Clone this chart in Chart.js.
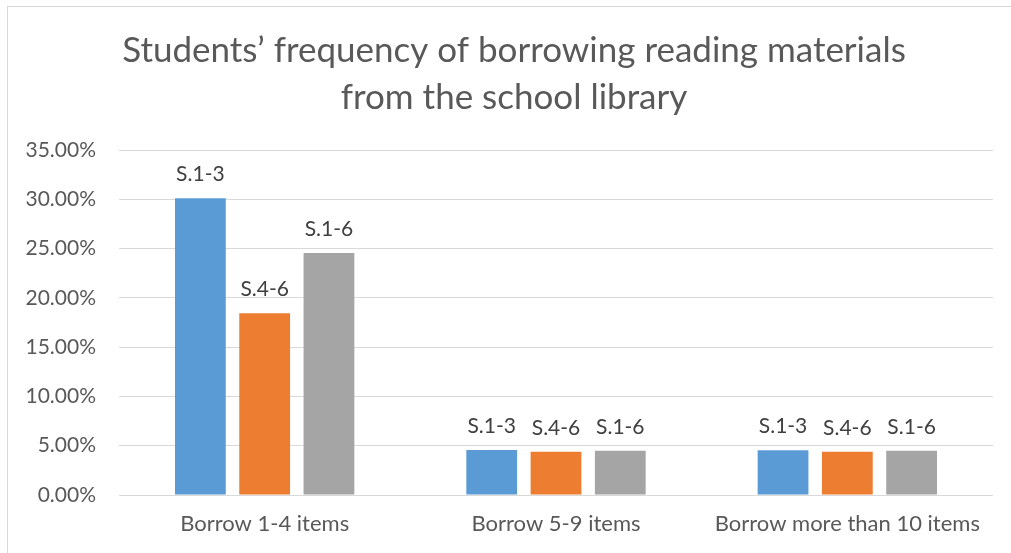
<!DOCTYPE html>
<html>
<head>
<meta charset="utf-8">
<script src="https://cdn.jsdelivr.net/npm/chart.js@4/dist/chart.umd.min.js"></script>
<style>
  html, body { margin: 0; padding: 0; background: #ffffff; }
  #wrap { position: relative; width: 1011px; height: 553px; overflow: hidden; }
  #frame { position: absolute; left: 7px; top: 6px; width: 1100px; height: 700px;
           border-left: 1px solid #d9d9d9; border-top: 1px solid #d9d9d9;
           box-sizing: border-box; pointer-events: none; }
  canvas { position: absolute; left: 0; top: 0; }
</style>
</head>
<body>
<div id="wrap">
  <canvas id="chart" width="1011" height="553"></canvas>
  <div id="frame"></div>
</div>
<script>
// Borrowing frequency categories
const categories = ['Borrow 1-4 items', 'Borrow 5-9 items', 'Borrow more than 10 items'];

// Share of students per form group (fractions)
const s13 = [0.301, 0.0456, 0.0454];
const s46 = [0.1843, 0.0439, 0.0439];
const s16 = [0.2455, 0.0449, 0.0449];

const seriesNames = ['S.1-3', 'S.4-6', 'S.1-6'];
const seriesColors = ['#5B9BD5', '#ED7D31', '#A5A5A5'];

const titleLines = ['Students\u2019 frequency of borrowing reading materials', 'from the school library'];

const FONT = 'Lato, "Open Sans", sans-serif';
const TEXT = '#595959';

// Two-line heading, centred over the whole chart frame
const heading = {
  id: 'heading',
  afterDraw(chart) {
    const ctx = chart.ctx;
    ctx.save();
    ctx.font = '35px ' + FONT;
    ctx.fillStyle = TEXT;
    ctx.textAlign = 'center';
    ctx.textBaseline = 'middle';
    titleLines.forEach((line, i) => ctx.fillText(line, 514, 51 + i * 47));
    ctx.restore();
  }
};

// Writes each series name just above its bars
const seriesNameLabels = {
  id: 'seriesNameLabels',
  afterDatasetsDraw(chart) {
    const ctx = chart.ctx;
    ctx.save();
    ctx.font = '21px ' + FONT;
    ctx.fillStyle = '#404040';
    ctx.textAlign = 'center';
    ctx.textBaseline = 'alphabetic';
    chart.data.datasets.forEach((ds, i) => {
      const meta = chart.getDatasetMeta(i);
      meta.data.forEach(bar => {
        ctx.fillText(ds.label, bar.x, bar.y - 17);
      });
    });
    ctx.restore();
  }
};

new Chart(document.getElementById('chart'), {
  type: 'bar',
  data: {
    labels: categories,
    datasets: [
      { label: seriesNames[0], data: s13, backgroundColor: seriesColors[0] },
      { label: seriesNames[1], data: s46, backgroundColor: seriesColors[1] },
      { label: seriesNames[2], data: s16, backgroundColor: seriesColors[2] }
    ]
  },
  options: {
    responsive: false,
    animation: false,
    devicePixelRatio: 1,
    layout: { padding: { left: 8, right: 18, top: 150, bottom: 0 } },
    datasets: {
      bar: { categoryPercentage: 0.662, barPercentage: 0.79, borderWidth: 0 }
    },
    plugins: {
      legend: { display: false },
      tooltip: { enabled: false },
      title: { display: false }
    },
    scales: {
      x: {
        grid: { display: false, drawTicks: false },
        border: { display: false },
        ticks: { color: TEXT, font: { family: FONT, size: 22 }, padding: 16, maxRotation: 0 },
        afterFit(scale) { scale.height = 58; }
      },
      y: {
        min: 0,
        max: 0.35,
        grid: { color: '#d9d9d9', lineWidth: 1, drawTicks: false },
        border: { display: false },
        ticks: {
          stepSize: 0.05,
          color: TEXT,
          padding: 23,
          font: { family: FONT, size: 21 },
          callback: v => (v * 100).toFixed(2) + '%'
        },
        afterFit(scale) { scale.width = 111; }
      }
    }
  },
  plugins: [seriesNameLabels, heading]
});
</script>
</body>
</html>
